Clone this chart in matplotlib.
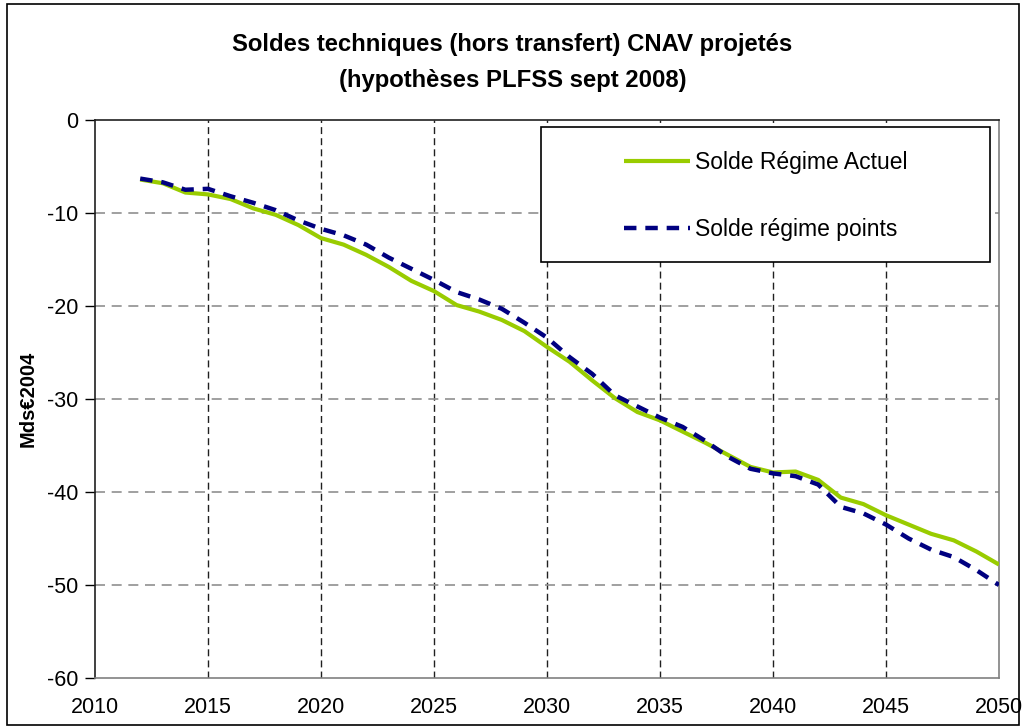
import matplotlib
matplotlib.use("Agg")
from matplotlib import pyplot as plt
from matplotlib.patches import Rectangle

years = list(range(2012, 2051))

regime_actuel = [-6.4, -6.8, -7.8, -8.0, -8.5, -9.5, -10.2, -11.3, -12.7, -13.4,
                 -14.5, -15.8, -17.3, -18.4, -19.9, -20.6, -21.5, -22.7, -24.4, -26.0,
                 -28.0, -29.9, -31.4, -32.3, -33.5, -34.7, -36.0, -37.3, -37.9, -37.8,
                 -38.7, -40.6, -41.3, -42.5, -43.5, -44.5, -45.2, -46.4, -47.8]

regime_points = [-6.3, -6.7, -7.5, -7.4, -8.2, -8.9, -9.7, -10.8, -11.7, -12.4,
                 -13.4, -14.8, -16.0, -17.2, -18.5, -19.3, -20.3, -21.8, -23.4, -25.5,
                 -27.3, -29.6, -30.8, -32.0, -33.0, -34.5, -36.2, -37.5, -38.0, -38.3,
                 -39.2, -41.6, -42.3, -43.5, -45.0, -46.2, -47.0, -48.4, -50.0]

x_ticks = [2010, 2015, 2020, 2025, 2030, 2035, 2040, 2045, 2050]
y_ticks = [0, -10, -20, -30, -40, -50, -60]
y_labels = ["0", "-10", "-20", "-30", "-40", "-50", "-60"]

plt.rcParams['font.family'] = ['Liberation Sans', 'DejaVu Sans']

fig = plt.figure(figsize=(10.25, 7.28), dpi=100)
ax = fig.add_axes([95 / 1025, 1 - 678 / 728, 904 / 1025, 558 / 728])

# cadre de la figure
fig.patches.append(Rectangle((7 / 1025, 3 / 728), 1012 / 1025, 721 / 728,
                             transform=fig.transFigure, fill=False,
                             edgecolor="black", linewidth=1.2))

ax.plot(years, regime_actuel, color="#99CC00", linewidth=3, label="Solde Régime Actuel",
        solid_capstyle="butt", zorder=3)
ax.plot(years, regime_points, color="#000080", linewidth=3.2, linestyle=(0, (2.8, 2)),
        label="Solde régime points", zorder=4)

ax.set_xlim(2010, 2050)
ax.set_ylim(-60, 0)
ax.set_xticks(x_ticks)
ax.set_yticks(y_ticks)
ax.set_yticklabels(y_labels)
ax.tick_params(axis="x", length=0, pad=14, labelsize=15.5)
ax.tick_params(axis="y", length=7, width=1, direction="out", labelsize=15.5, pad=5)

for x in x_ticks[1:-1]:
    ax.axvline(x, color="#202020", linewidth=1, linestyle=(0, (5, 3)), zorder=1)
for y in y_ticks[1:-1]:
    ax.axhline(y, color="#909090", linewidth=1.2, linestyle=(0, (6, 4)), zorder=1)

ax.spines["left"].set_color("#202020")
ax.spines["top"].set_color("#202020")
ax.spines["right"].set_color("#808080")
ax.spines["bottom"].set_color("#808080")
for s in ax.spines.values():
    s.set_linewidth(1.2)

ax.set_ylabel("Mds€2004", fontsize=14.5, fontweight="bold", labelpad=7)

fig.text(0.5, 1 - 45 / 728, "Soldes techniques (hors transfert) CNAV projetés",
         ha="center", va="center", fontsize=17.2, fontweight="bold")
fig.text(0.5, 1 - 80 / 728, "(hypothèses PLFSS sept 2008)",
         ha="center", va="center", fontsize=17.2, fontweight="bold")

# légende
fx0, fx1 = (541 - 95) / 904, (990 - 95) / 904
fy0, fy1 = (678 - 262) / 558, (678 - 127) / 558
ax.add_patch(Rectangle((fx0, fy0), fx1 - fx0, fy1 - fy0, transform=ax.transAxes,
                       facecolor="white", edgecolor="black", linewidth=1.2, zorder=5))
leg = ax.legend(loc="center", bbox_to_anchor=((fx0 + fx1) / 2, (678 - 196) / 558),
                frameon=False, fontsize=16.5, handlelength=2.9, handletextpad=0.2,
                labelspacing=1.95)
leg.set_zorder(6)

fig.savefig("out.png", dpi=100)
